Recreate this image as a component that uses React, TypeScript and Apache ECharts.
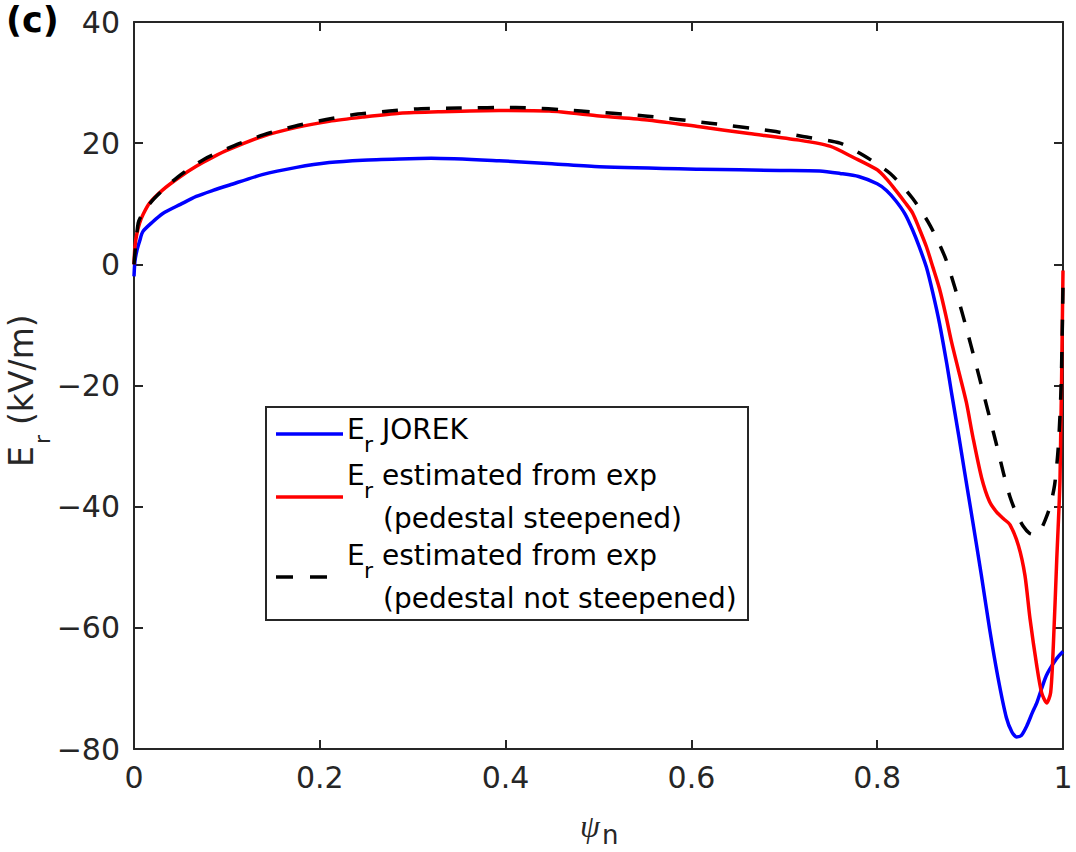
import React, { useEffect, useRef } from "react";
import * as echarts from "echarts";

// ---------- data ----------
const psiJorek = [0, 0.001, 0.003, 0.006, 0.0095, 0.02, 0.031, 0.05, 0.067, 0.085, 0.103, 0.138, 0.175, 0.21, 0.246, 0.286, 0.32, 0.393, 0.45, 0.501, 0.609, 0.695, 0.738, 0.76, 0.78, 0.8, 0.81, 0.82, 0.83, 0.838, 0.845, 0.853, 0.86, 0.867, 0.875, 0.88, 0.888, 0.894, 0.903, 0.912, 0.921, 0.93, 0.939, 0.945, 0.95, 0.955, 0.961, 0.967, 0.972, 0.982, 0.993, 1.0];
const erJorek = [-2, 0.5, 2.2, 3.8, 5.4, 7, 8.4, 9.9, 11.2, 12.2, 13.1, 14.8, 16, 16.8, 17.2, 17.4, 17.5, 17.1, 16.6, 16.1, 15.7, 15.5, 15.4, 15.0, 14.5, 13.3, 12.2, 10.5, 8.3, 5.7, 3, -0.5, -4.8, -9.7, -16.5, -21.2, -28.5, -34.2, -42.6, -51.2, -60.2, -68.2, -74.8, -77.2, -78, -77.8, -76.2, -74, -72.3, -67.9, -65.1, -63.9];

const psiSteep = [0, 0.001, 0.003, 0.006, 0.01, 0.0167, 0.031, 0.05, 0.067, 0.085, 0.103, 0.138, 0.175, 0.21, 0.246, 0.286, 0.33, 0.393, 0.447, 0.501, 0.555, 0.609, 0.662, 0.716, 0.749, 0.775, 0.8, 0.81, 0.82, 0.83, 0.838, 0.845, 0.853, 0.86, 0.867, 0.874, 0.88, 0.888, 0.896, 0.903, 0.9125, 0.921, 0.9286, 0.936, 0.943, 0.952, 0.959, 0.9645, 0.9717, 0.977, 0.9824, 0.9867, 0.9896, 0.9932, 0.9968, 1.0];
const erSteep = [0, 2.9, 5, 6.8, 8.3, 10.1, 12.3, 14.5, 16.2, 17.7, 19, 21.1, 22.6, 23.6, 24.3, 24.95, 25.2, 25.4, 25.3, 24.5, 23.8, 22.7, 21.6, 20.5, 19.5, 17.6, 15.6, 14.1, 12.2, 10.2, 8.5, 6, 2.9, -0.5, -4, -8.5, -12.8, -17.8, -22.8, -28.5, -35.3, -39.2, -40.9, -42, -43, -46.4, -51.3, -58.5, -66.2, -70.7, -72.4, -70.7, -62.9, -49, -35.3, -1];

const psiNotSteep = [0, 0.0045, 0.01, 0.022, 0.047, 0.076, 0.108, 0.14, 0.173, 0.207, 0.241, 0.275, 0.309, 0.35, 0.411, 0.481, 0.55, 0.62, 0.687, 0.72, 0.76, 0.785, 0.814, 0.838, 0.857, 0.874, 0.892, 0.91, 0.928, 0.936, 0.943, 0.95, 0.957, 0.964, 0.97, 0.976, 0.9806, 0.986, 0.991, 0.995, 0.998, 1.0];
const erNotSteep = [0, 6.8, 8.6, 10.9, 14.4, 17.4, 19.6, 21.4, 22.8, 23.9, 24.8, 25.3, 25.7, 25.8, 25.9, 25.3, 24.5, 23.3, 22, 21.1, 20.0, 18.0, 15, 10.9, 6.4, 0.8, -8.3, -18.7, -29.5, -34.5, -38.4, -41.2, -43.2, -44.4, -44.6, -43.8, -42.3, -40, -36.4, -30, -20, -3.5];

const xRange = [0, 1];
const xStep = 0.2;
const yRange = [-80, 40];
const yStep = 20;

const panelLabel = "(c)";
const yLabelMain = "E";
const yLabelSub = "r";
const yLabelUnit = "(kV/m)";
const xLabelMain = "\u03C8";
const xLabelSub = "n";
const legendLine1 = ["E", "r", "JOREK"];
const legendLine2 = ["E", "r", "estimated from exp", "(pedestal steepened)"];
const legendLine3 = ["E", "r", "estimated from exp", "(pedestal not steepened)"];

const pairs = (xs: number[], ys: number[]) => xs.map((x, i) => [x, ys[i]]);

const AX = "#262626";
const FONT = '"DejaVu Sans", sans-serif';

export default function App() {
  const ref = useRef<HTMLDivElement>(null);
  useEffect(() => {
    if (!ref.current) return;
    const chart = echarts.init(ref.current, undefined, { renderer: "svg" });
    const axisCommon = {
      axisLine: { show: true, onZero: false, lineStyle: { color: AX, width: 2 } },
      axisTick: { show: true, inside: true, length: 9, lineStyle: { color: AX, width: 2 } },
      splitLine: { show: false },
    };
    const legendText = (text: string, x: number, y: number, size: number) => ({
      type: "text",
      z: 101,
      style: {
        text, x, y,
        font: `${size}px ${FONT}`,
        fill: "#000",
        textAlign: "left", align: "left",
        textVerticalAlign: "middle", verticalAlign: "middle",
      },
    });
    const entry = (parts: string[], baseline: number, second?: number) => {
      const out: any[] = [
        legendText(parts[0], 347, baseline - 9.6, 28),
        legendText(parts[1], 364, baseline + 13 - 7.6, 22),
        legendText(parts[2], 382, baseline - 9.6, 28),
      ];
      if (parts[3] && second !== undefined) out.push(legendText(parts[3], 383, second - 9.6, 28));
      return out;
    };
    const lineSeries = (name: string, xs: number[], ys: number[], color: string, z: number, dash?: number[]) => ({
      name, type: "line", xAxisIndex: 0, yAxisIndex: 0,
      data: pairs(xs, ys), showSymbol: false, symbol: "none",
      smooth: 0.25,
      lineStyle: { color, width: 3.5, type: dash || "solid", join: "round", cap: "butt" }, z,
    });
    const option: any = {
      animation: false,
      backgroundColor: "#fff",
      grid: { left: 134, top: 22, width: 929, height: 727, containLabel: false, outerBoundsMode: "none" },
      xAxis: [
        {
          type: "value", min: xRange[0], max: xRange[1], interval: xStep, position: "bottom",
          ...axisCommon,
          axisLabel: {
            show: true, margin: 13, color: AX, fontSize: 30, fontFamily: FONT,
            formatter: (v: number) => String(+v.toFixed(1)),
          },
        },
        {
          type: "value", min: xRange[0], max: xRange[1], interval: xStep, position: "top",
          ...axisCommon, axisLabel: { show: false },
        },
      ],
      yAxis: [
        {
          type: "value", min: yRange[0], max: yRange[1], interval: yStep, position: "left",
          ...axisCommon,
          axisLabel: {
            show: true, margin: 14, color: AX, fontSize: 30, fontFamily: FONT,
            formatter: (v: number) => (v < 0 ? "\u2212" + Math.abs(v) : String(v)),
          },
        },
        {
          type: "value", min: yRange[0], max: yRange[1], interval: yStep, position: "right",
          ...axisCommon, axisLabel: { show: false },
        },
      ],
      series: [
        lineSeries("Er JOREK", psiJorek, erJorek, "#0000ff", 2),
        lineSeries("Er estimated (pedestal steepened)", psiSteep, erSteep, "#ff0000", 3),
        lineSeries("Er estimated (pedestal not steepened)", psiNotSteep, erNotSteep, "#000000", 4, [16, 16]),
      ],
      graphic: [
        {
          type: "text", left: 6, top: 2,
          style: { text: panelLabel, font: `bold 35px ${FONT}`, fill: "#000" },
        },
        {
          type: "group", x: 21.6, y: 467, rotation: Math.PI / 2,
          children: [
            { type: "text", style: { text: yLabelMain, x: 0, y: 0, font: `33px ${FONT}`, fill: AX, textAlign: "left", align: "left", textVerticalAlign: "middle", verticalAlign: "middle" } },
            { type: "text", style: { text: yLabelSub, x: 23, y: 20.8, font: `22px ${FONT}`, fill: AX, textAlign: "left", align: "left", textVerticalAlign: "middle", verticalAlign: "middle" } },
            { type: "text", style: { text: yLabelUnit, x: 42, y: 0, font: `33px ${FONT}`, fill: AX, textAlign: "left", align: "left", textVerticalAlign: "middle", verticalAlign: "middle" } },
          ],
        },
        {
          type: "text",
          style: { text: xLabelMain, x: 590, y: 826, font: `italic 32px "Liberation Serif", serif`, fill: AX, textAlign: "center", align: "center", textVerticalAlign: "middle", verticalAlign: "middle" },
        },
        {
          type: "text",
          style: { text: xLabelSub, x: 602, y: 835, font: `26px ${FONT}`, fill: AX, textAlign: "left", align: "left", textVerticalAlign: "middle", verticalAlign: "middle" },
        },
        {
          type: "rect", z: 100,
          shape: { x: 266, y: 407, width: 482, height: 213 },
          style: { fill: "#fff", stroke: AX, lineWidth: 2 },
        },
        { type: "line", z: 101, shape: { x1: 276, y1: 434, x2: 343, y2: 434 }, style: { stroke: "#0000ff", lineWidth: 3.5 } },
        { type: "line", z: 101, shape: { x1: 276, y1: 497, x2: 343, y2: 497 }, style: { stroke: "#ff0000", lineWidth: 3.5 } },
        { type: "line", z: 101, shape: { x1: 276, y1: 577, x2: 343, y2: 577 }, style: { stroke: "#000000", lineWidth: 3.5, lineDash: [17, 17] } },
        ...entry(legendLine1, 439),
        ...entry(legendLine2, 485, 528),
        ...entry(legendLine3, 565, 608),
      ],
    };
    chart.setOption(option);
    return () => chart.dispose();
  }, []);
  return (
    <div
      ref={ref}
      style={{ position: "absolute", left: 0, top: 0, width: 1076, height: 852, background: "#fff" }}
    />
  );
}
